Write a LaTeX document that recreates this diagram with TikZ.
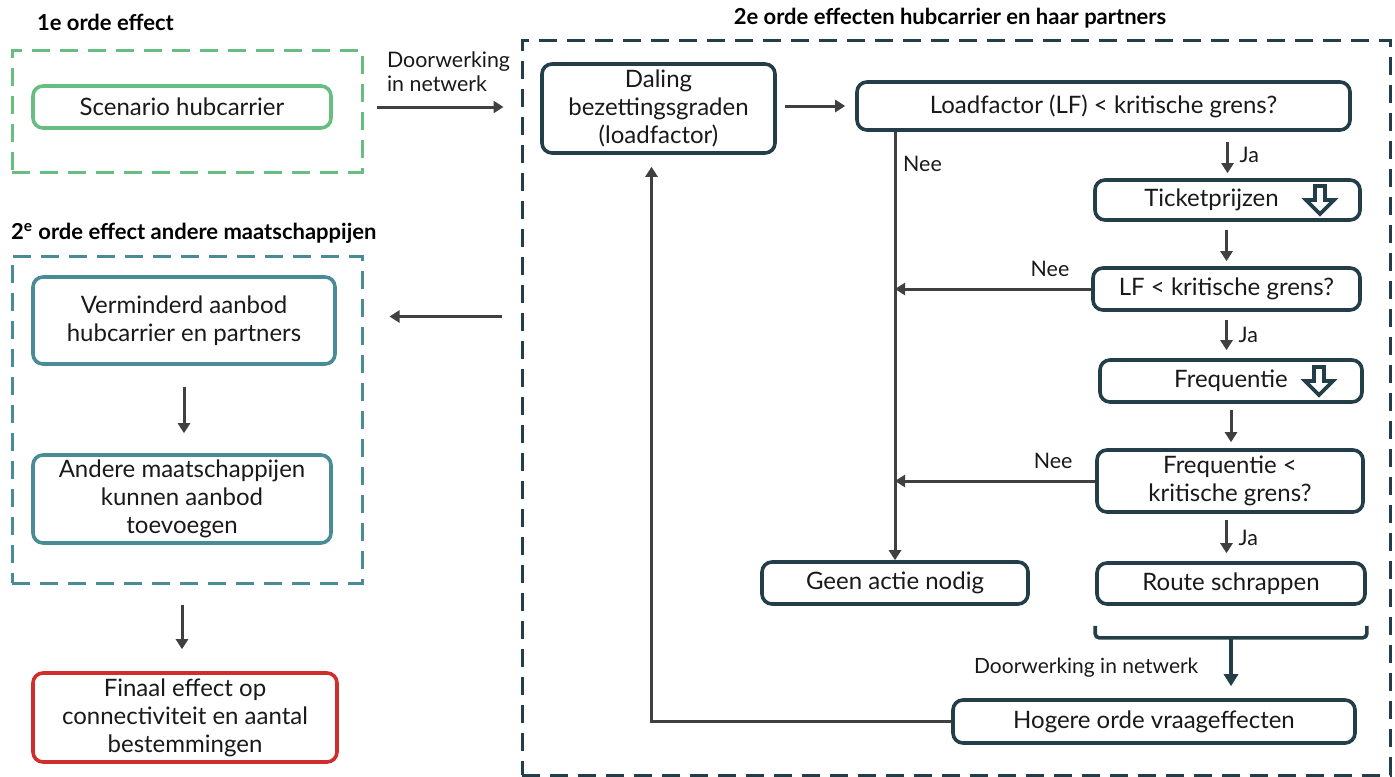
\documentclass[tikz,border=0pt]{standalone}
\usepackage{fontspec}
\setmainfont{Lato}
\usetikzlibrary{arrows.meta}

\definecolor{groen}{RGB}{102,190,128}
\definecolor{blauwgroen}{RGB}{74,140,150}
\definecolor{donker}{RGB}{35,62,72}
\definecolor{rood}{RGB}{208,45,45}
\definecolor{pijlgrijs}{RGB}{64,64,64}
\definecolor{tekst}{RGB}{25,25,25}

\tikzset{
  blok/.style={draw=donker, line width=1.8pt, rounded corners=5pt, align=center,
    inner sep=2pt, text=tekst, font=\fontsize{12}{14}\selectfont},
  kader/.style={draw, line width=1.5pt, dash pattern=on 9pt off 5pt, inner sep=0pt},
  kop/.style={font=\fontsize{11}{13}\selectfont\bfseries, text=black},
  etiket/.style={font=\fontsize{10.7}{12}\selectfont, text=tekst},
  pijl/.style={draw=pijlgrijs, line width=1.5pt, -{Triangle[length=5pt, width=6pt]}},
  donkerpijl/.style={draw=donker, line width=2pt, -{Triangle[length=6pt, width=7pt]}},
  holpijl/.pic={\draw[donker, line width=1.8pt, line join=miter]
    (-5,-14) -- (5,-14) -- (5,0) -- (14,0) -- (0,14) -- (-14,0) -- (-5,0) -- cycle;}
}

\begin{document}
\begin{tikzpicture}[x=0.5pt, y=-0.5pt]
\useasboundingbox (0,0) rectangle (1395,776);

% kaders
\node (groenkader) [kader, draw=groen, minimum width=175pt, minimum height=61pt] at (187,111) {};
\node (tealkader) [kader, draw=blauwgroen, minimum width=175pt, minimum height=163.5pt] at (187,419.5) {};
\node (hubkader) [kader, draw=donker, minimum width=434pt, minimum height=367.5pt] at (956,407.5) {};

% koppen
\node (kop1) [kop, anchor=west] at (30,22) {1e orde effect};
\node (kop2) [kop] at (950,18) {2e orde effecten hubcarrier en haar partners};
\node (kop3) [kop, anchor=west] at (4,233) {2\textsuperscript{e} orde effect andere maatschappijen};

% 1e orde
\node (scen) [blok, draw=groen, minimum width=149pt, minimum height=21pt] at (182,107) {Scenario hubcarrier};

% 2e orde andere maatschappijen
\node (verm) [blok, draw=blauwgroen, minimum width=151pt, minimum height=43.5pt] at (184,320.5) {Verminderd aanbod\\hubcarrier en partners};
\node (andere) [blok, draw=blauwgroen, minimum width=149pt, minimum height=44pt] at (182,499) {Andere maatschappijen\\kunnen aanbod\\toevoegen};
\node (finaal) [blok, draw=rood, minimum width=152pt, minimum height=44.5pt] at (185,717.5) {Finaal effect op\\connectiviteit en aantal\\bestemmingen};

% 2e orde hubcarrier
\node (daling) [blok, minimum width=116.5pt, minimum height=44.5pt] at (658.5,108.5) {Daling\\bezettingsgraden\\(loadfactor)};
\node (lf1) [blok, minimum width=246.5pt, minimum height=24pt] at (1103.5,106) {Loadfactor (LF) < kritische grens?};
\node (ticket) [blok, minimum width=132.5pt, minimum height=20pt] at (1227.5,200) {Ticketprijzen\hspace{16pt}};
\node (lf2) [blok, minimum width=133.5pt, minimum height=21pt] at (1226.5,289) {LF < kritische grens?};
\node (freq) [blok, minimum width=131pt, minimum height=21pt] at (1231,381) {Frequentie};
\node (freq2) [blok, minimum width=133pt, minimum height=31pt] at (1230,481) {Frequentie <\\kritische grens?};
\node (route) [blok, minimum width=134pt, minimum height=20.5pt] at (1231,583.5) {Route schrappen};
\node (geen) [blok, minimum width=133pt, minimum height=21pt] at (895,583) {Geen actie nodig};
\node (hogere) [blok, minimum width=201pt, minimum height=21.5pt] at (1154,721.5) {Hogere orde vraageffecten};

\pic at (1320,200) {holpijl};
\pic at (1319,381) {holpijl};

% verbindingen
\draw[pijl, shorten <=6.5pt, shorten >=8.5pt] (groenkader.east |- scen) -- (hubkader.west |- scen);
\node (doorw) [etiket, anchor=west, align=left] at (380,72) {Doorwerking\\in netwerk};
\draw[pijl, shorten <=9.5pt, shorten >=13pt] ([yshift=2pt]hubkader.west |- verm) -- ([yshift=2pt]tealkader.east |- verm);

\draw[pijl, shorten <=4pt, shorten >=5pt] (daling.east |- lf1) -- (lf1.west);
\draw[pijl] (lf1.south -| geen) -- (geen.north) node[etiket, pos=0.075, right] {Nee};
\draw[pijl, shorten <=5pt, shorten >=2.5pt] (lf1.south -| ticket) -- (ticket.north) node[etiket, midway, right, xshift=2pt] {Ja};
\draw[pijl, shorten <=4pt, shorten >=2.5pt] (ticket.south -| lf2) -- (lf2.north);
\draw[pijl] (lf2.west) -- (lf2.west -| geen) node[etiket, pos=0.21, above, yshift=2pt] {Nee};
\draw[pijl, shorten <=4pt, shorten >=4pt] (lf2.south) -- (lf2.south |- freq.north) node[etiket, midway, right, xshift=2pt] {Ja};
\draw[pijl, shorten <=3pt, shorten >=3pt] (freq.south) -- (freq.south |- freq2.north);
\draw[pijl] (freq2.west) -- (freq2.west -| geen) node[etiket, pos=0.21, above, yshift=2pt] {Nee};
\draw[pijl, shorten <=3pt, shorten >=4pt] (freq2.south -| lf2) -- (lf2 |- route.north) node[etiket, midway, right, xshift=2pt] {Ja};

% klem onder route schrappen
\draw[donker, line width=1.8pt, rounded corners=2pt] ([yshift=-10pt]route.south west) -- ([yshift=-16pt]route.south west) -- ([yshift=-16pt]route.south east) -- ([yshift=-10pt]route.south east);
\coordinate (klem) at ([yshift=-16pt]route.south);
\draw[donkerpijl, shorten >=6pt] (klem) -- (hogere.north -| klem) node[etiket, midway, left, xshift=-12pt, font=\fontsize{10.5}{12}\selectfont] {Doorwerking in netwerk};

\draw[pijl, shorten >=6pt] (hogere.west) -| ([xshift=-3.5pt]daling.south);

\draw[pijl, shorten <=10.5pt, shorten >=10pt] (verm.south) -- (verm.south |- andere.north);
\draw[pijl, shorten <=10pt, shorten >=11pt] (andere.south |- tealkader.south) -- (andere.south |- finaal.north);

\end{tikzpicture}
\end{document}
